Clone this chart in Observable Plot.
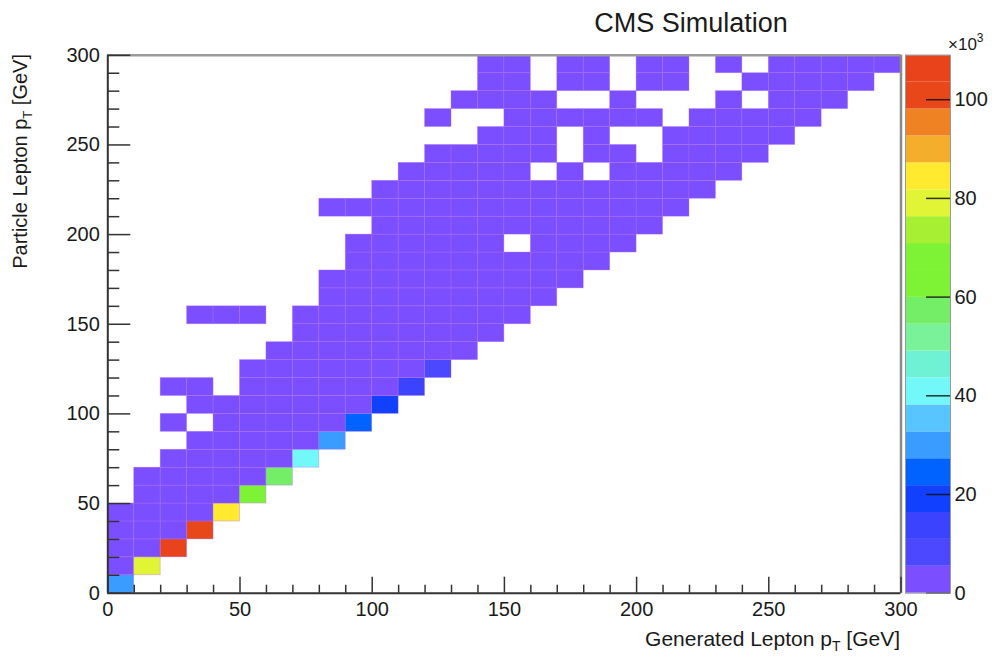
<!DOCTYPE html>
<html>
<head>
<meta charset="utf-8">
<script src="https://cdn.jsdelivr.net/npm/d3@7"></script>
<script src="https://cdn.jsdelivr.net/npm/@observablehq/plot@0.6"></script>
<style>
  html, body { margin: 0; padding: 0; background: #fff; }
  #chart { position: relative; width: 992px; height: 662px; overflow: hidden; background: #fff; }
  #chart svg { position: absolute; top: 0; }
</style>
</head>
<body>
<div id="chart"></div>
<script>
// Bin edges (GeV) shared by both axes: 30 bins of 10 GeV
const binEdges = [0, 10, 20, 30, 40, 50, 60, 70, 80, 90, 100, 110, 120, 130, 140, 150,
                  160, 170, 180, 190, 200, 210, 220, 230, 240, 250, 260, 270, 280, 290, 300];

// Entries per bin in units of 10^3; rows = particle-level pT bin (0-10 GeV first),
// columns = generated pT bin. Zero means an empty bin (not drawn).
const counts = [
  [30.0,0,0,0,0,0,0,0,0,0, 0,0,0,0,0,0,0,0,0,0, 0,0,0,0,0,0,0,0,0,0],
  [4.6,79.0,0,0,0,0,0,0,0,0, 0,0,0,0,0,0,0,0,0,0, 0,0,0,0,0,0,0,0,0,0],
  [1.9,4.8,109.0,0,0,0,0,0,0,0, 0,0,0,0,0,0,0,0,0,0, 0,0,0,0,0,0,0,0,0,0],
  [0.8,1.7,4.9,101.0,0,0,0,0,0,0, 0,0,0,0,0,0,0,0,0,0, 0,0,0,0,0,0,0,0,0,0],
  [0.3,0.7,1.6,4.7,84.5,0,0,0,0,0, 0,0,0,0,0,0,0,0,0,0, 0,0,0,0,0,0,0,0,0,0],
  [0,0.3,0.6,1.5,4.4,64.0,0,0,0,0, 0,0,0,0,0,0,0,0,0,0, 0,0,0,0,0,0,0,0,0,0],
  [0,0.1,0.3,0.6,1.4,4.1,57.0,0,0,0, 0,0,0,0,0,0,0,0,0,0, 0,0,0,0,0,0,0,0,0,0],
  [0,0,0.1,0.2,0.5,1.2,3.7,41.0,0,0, 0,0,0,0,0,0,0,0,0,0, 0,0,0,0,0,0,0,0,0,0],
  [0,0,0,0.1,0.2,0.4,1.0,3.3,29.0,0, 0,0,0,0,0,0,0,0,0,0, 0,0,0,0,0,0,0,0,0,0],
  [0,0,0.02,0,0.1,0.2,0.4,0.9,2.9,24.0, 0,0,0,0,0,0,0,0,0,0, 0,0,0,0,0,0,0,0,0,0],
  [0,0,0,0.03,0.05,0.1,0.2,0.3,0.8,2.5, 19.0,0,0,0,0,0,0,0,0,0, 0,0,0,0,0,0,0,0,0,0],
  [0,0,0.02,0.02,0,0.05,0.1,0.2,0.3,0.7, 2.2,11.5,0,0,0,0,0,0,0,0, 0,0,0,0,0,0,0,0,0,0],
  [0,0,0,0,0,0.03,0.05,0.1,0.2,0.3, 0.6,1.9,9.0,0,0,0,0,0,0,0, 0,0,0,0,0,0,0,0,0,0],
  [0,0,0,0,0,0,0.03,0.05,0.08,0.15, 0.25,0.45,1.4,5.0,0,0,0,0,0,0, 0,0,0,0,0,0,0,0,0,0],
  [0,0,0,0,0,0,0,0.03,0.05,0.1, 0.15,0.25,0.4,1.2,4.3,0,0,0,0,0, 0,0,0,0,0,0,0,0,0,0],
  [0,0,0,0.01,0.01,0.01,0,0.02,0.03,0.05, 0.1,0.15,0.2,0.35,1.0,3.7,0,0,0,0, 0,0,0,0,0,0,0,0,0,0],
  [0,0,0,0,0,0,0,0,0.02,0.04, 0.06,0.1,0.15,0.2,0.3,0.9,3.2,0,0,0, 0,0,0,0,0,0,0,0,0,0],
  [0,0,0,0,0,0,0,0,0.01,0.02, 0.04,0.06,0.1,0.15,0.2,0.3,0.8,2.8,0,0, 0,0,0,0,0,0,0,0,0,0],
  [0,0,0,0,0,0,0,0,0,0.02, 0.03,0.05,0.08,0.1,0.15,0.2,0.25,0.7,2.4,0, 0,0,0,0,0,0,0,0,0,0],
  [0,0,0,0,0,0,0,0,0,0.01, 0.02,0.03,0.05,0.08,0.1,0,0.15,0.2,0.6,2.1, 0,0,0,0,0,0,0,0,0,0],
  [0,0,0,0,0,0,0,0,0,0, 0.01,0.02,0.03,0.05,0.06,0.08,0.1,0.15,0.2,0.5, 1.8,0,0,0,0,0,0,0,0,0],
  [0,0,0,0,0,0,0,0,0.01,0.01, 0.01,0.02,0.03,0.04,0.05,0.06,0.08,0.1,0.15,0.2, 0.45,1.6,0,0,0,0,0,0,0,0],
  [0,0,0,0,0,0,0,0,0,0, 0.01,0.01,0.02,0.03,0.04,0.05,0.06,0.08,0.1,0.12, 0.15,0.4,1.4,0,0,0,0,0,0,0],
  [0,0,0,0,0,0,0,0,0,0, 0,0.01,0.01,0.02,0.03,0.04,0,0.05,0,0.08, 0.1,0.12,0.35,1.2,0,0,0,0,0,0],
  [0,0,0,0,0,0,0,0,0,0, 0,0,0.01,0.01,0.02,0.03,0.03,0,0.05,0.06, 0,0.08,0.1,0.3,1.1,0,0,0,0,0],
  [0,0,0,0,0,0,0,0,0,0, 0,0,0,0,0.01,0.02,0.02,0,0.03,0, 0,0.05,0.06,0.1,0.25,0.95,0,0,0,0],
  [0,0,0,0,0,0,0,0,0,0, 0,0,0.01,0,0,0.01,0.01,0.02,0.02,0.03, 0.03,0,0.05,0.06,0.08,0.22,0.85,0,0,0],
  [0,0,0,0,0,0,0,0,0,0, 0,0,0,0.01,0.01,0.01,0.01,0,0,0.02, 0,0,0,0.04,0,0.06,0.2,0.75,0,0],
  [0,0,0,0,0,0,0,0,0,0, 0,0,0,0,0.01,0.01,0,0.01,0.02,0, 0.02,0.02,0,0,0.04,0.05,0.06,0.18,0.65,0],
  [0,0,0,0,0,0,0,0,0,0, 0,0,0,0,0.01,0.01,0,0.01,0.01,0, 0.02,0.02,0,0.03,0,0.04,0.05,0.06,0.16,0.6]
];

// Axis ticks
const xMajorTicks = [0, 50, 100, 150, 200, 250, 300];
const xMinorTicks = [10, 20, 30, 40, 60, 70, 80, 90, 110, 120, 130, 140, 160, 170, 180, 190,
                     210, 220, 230, 240, 260, 270, 280, 290];
const yMajorTicks = xMajorTicks;
const yMinorTicks = xMinorTicks;
const zTicks = [0, 20, 40, 60, 80, 100];

// Colour palette: 20 contour levels from 0 to the maximum bin content
const zMax = 109.0;
const palette = ["#7b4fff", "#4b48ff", "#3c43ff", "#1140ff", "#0062ff", "#3a9cff", "#58c5ff",
                 "#72f8f8", "#6ff2d4", "#79f29a", "#74ee66", "#7ef234", "#7ef234", "#a7ef33",
                 "#e2f436", "#ffea2f", "#f4ae2b", "#ef8222", "#e8471a", "#e8431a"];
const nLevels = palette.length;
const levelWidth = zMax / nLevels;
const thresholds = d3.range(1, nLevels).map(k => k * levelWidth);
const colorScale = {type: "threshold", domain: thresholds, range: palette};

// Non-empty bins as rectangles
const cells = [];
counts.forEach((row, j) => row.forEach((v, i) => {
  if (v > 0) cells.push({x1: binEdges[i], x2: binEdges[i + 1], y1: binEdges[j], y2: binEdges[j + 1], z: v});
}));

// Colour-bar bands
const levels = d3.range(nLevels).map(k => ({lo: k * levelWidth, hi: (k + 1) * levelWidth}));

const W = 992, H = 662;
const mL = 107.3, mR = 91.5, mT = 54.8, mB = 69.3;
const frameW = W - mL - mR, frameH = H - mT - mB;
const font = "'Liberation Sans', Arial, Helvetica, sans-serif";
const ink = "#1a1a1a";

const main = Plot.plot({
  width: W, height: H,
  marginLeft: mL, marginRight: mR, marginTop: mT, marginBottom: mB,
  x: {domain: [0, 300], label: null},
  y: {domain: [0, 300], label: null},
  color: colorScale,
  style: {fontFamily: font, fontSize: "20px", color: ink, background: "transparent"},
  marks: [
    Plot.rect(cells, {x1: "x1", x2: "x2", y1: "y1", y2: "y2", fill: "z",
                      stroke: "#b46cff", strokeWidth: 0.7, strokeOpacity: 0.5}),
    Plot.ruleY([300], {stroke: "#9a9a9a", strokeWidth: 2.5}),
    Plot.ruleX([300], {stroke: "#8a8a8a", strokeWidth: 2.5}),
    Plot.ruleX([0], {stroke: "#333", strokeWidth: 2}),
    Plot.ruleY([0], {stroke: "#333", strokeWidth: 2}),
    Plot.tickX(xMinorTicks, {x: d => d, insetTop: frameH - 8, stroke: "#333", strokeWidth: 1.5}),
    Plot.tickX(xMajorTicks, {x: d => d, insetTop: frameH - 16, stroke: "#333", strokeWidth: 1.5}),
    Plot.tickY(yMinorTicks, {y: d => d, insetRight: frameW - 12, stroke: "#333", strokeWidth: 1.5}),
    Plot.tickY(yMajorTicks, {y: d => d, insetRight: frameW - 23, stroke: "#333", strokeWidth: 1.5}),
    Plot.axisX(xMajorTicks, {anchor: "bottom", tickSize: 0, tickPadding: 9, label: null, fontSize: 20}),
    Plot.axisY(yMajorTicks, {anchor: "left", tickSize: 0, tickPadding: 8, label: null, fontSize: 20})
  ]
});

const bar = Plot.plot({
  width: 92, height: H,
  marginLeft: 5, marginRight: 42, marginTop: mT, marginBottom: mB,
  x: {domain: [0, 1], axis: null},
  y: {domain: [0, zMax], label: null},
  color: colorScale,
  style: {fontFamily: font, fontSize: "20px", color: ink, background: "transparent", overflow: "visible"},
  marks: [
    Plot.rect(levels, {x1: 0, x2: 1, y1: "lo", y2: "hi", fill: d => (d.lo + d.hi) / 2}),
    Plot.tickY(zTicks, {y: d => d, insetLeft: 21, stroke: "#111", strokeWidth: 1.5, strokeOpacity: 0.85}),
    Plot.axisY(zTicks, {anchor: "right", tickSize: 0, tickPadding: 4, label: null, fontSize: 20}),
    Plot.frame({stroke: "#999", strokeWidth: 1})
  ]
});

const chart = document.getElementById("chart");
main.style.left = "0px";
bar.style.left = "900px";
chart.appendChild(main);
chart.appendChild(bar);

// Titles with subscripts
const svg = d3.select(main);
svg.append("text")
  .attr("x", 691).attr("y", 32)
  .attr("text-anchor", "middle")
  .attr("font-family", font).attr("font-size", 27).attr("fill", ink)
  .text("CMS Simulation");

const xTitle = svg.append("text")
  .attr("x", 900).attr("y", 646)
  .attr("text-anchor", "end")
  .attr("font-family", font).attr("font-size", 21).attr("fill", ink);
xTitle.append("tspan").text("Generated Lepton p");
xTitle.append("tspan").attr("font-size", 14).attr("dy", 5).text("T");
xTitle.append("tspan").attr("dy", -5).text(" [GeV]");

const yTitle = svg.append("text")
  .attr("transform", "translate(27,54) rotate(-90)")
  .attr("text-anchor", "end")
  .attr("font-family", font).attr("font-size", 20).attr("fill", ink);
yTitle.append("tspan").text("Particle Lepton p");
yTitle.append("tspan").attr("font-size", 13).attr("dy", 5).text("T");
yTitle.append("tspan").attr("dy", -5).text(" [GeV]");

const expo = d3.select(bar).append("text")
  .attr("x", 48).attr("y", 50)
  .attr("text-anchor", "start")
  .attr("font-family", font).attr("font-size", 17).attr("fill", ink);
expo.append("tspan").text("\u00d710");
expo.append("tspan").attr("font-size", 12).attr("dy", -8).text("3");
</script>
</body>
</html>
